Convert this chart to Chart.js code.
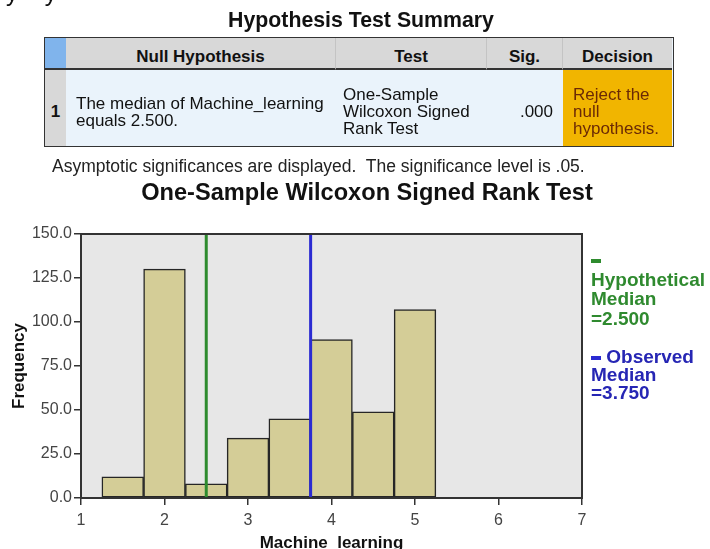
<!DOCTYPE html>
<html>
<head>
<meta charset="utf-8">
<script src="https://cdn.jsdelivr.net/npm/chart.js@4.4.0/dist/chart.umd.min.js"></script>
<style>
  html, body { margin: 0; padding: 0; width: 710px; height: 549px; overflow: hidden; background: #fff; }
  body { position: relative; font-family: "Liberation Sans", Arial, sans-serif; color: #111; }
  .abs { position: absolute; }
  #frag { left: 6px; top: -21px; font-size: 24px; white-space: pre; color: #111; }
  #sumTitle { left: 0; width: 722px; top: 8px; text-align: center; font-size: 21.3px; font-weight: bold; }
  #tbl { left: 44px; top: 37px; width: 630px; height: 110px; border: 1.5px solid #333; box-sizing: border-box; background: #eaf3fb; }
  .hd { position: absolute; top: 0; height: 32px; background: #d8d8d8; border-bottom: 2px solid #333; border-right: 1px solid #c4c4c4;
        font-size: 17px; font-weight: bold; text-align: center; line-height: 38px; box-sizing: border-box; }
  .cell { position: absolute; top: 32px; height: 76px; font-size: 17px; line-height: 17px; box-sizing: border-box;
          display: flex; flex-direction: column; justify-content: center; padding-top: 7px; }
  #note { left: 52px; top: 156px; font-size: 17.5px; white-space: pre; color: #222; }
  #chartTitle { left: 0; width: 734px; top: 179px; text-align: center; font-size: 23.6px; font-weight: bold; }
  #chart { position: absolute; left: 0; top: 0; }
  .leg { position: absolute; left: 591px; font-size: 19px; font-weight: bold; white-space: nowrap; }
  .dash { display: inline-block; width: 10px; height: 4px; vertical-align: middle; }
</style>
</head>
<body>
<canvas id="chart" width="710" height="560"></canvas>

<div class="abs" id="frag">y    y</div>
<div class="abs" id="sumTitle">Hypothesis Test Summary</div>

<div class="abs" id="tbl">
  <div class="hd" style="left:0;width:21px;background:#80b4ec;border-right:none;"></div>
  <div class="hd" style="left:21px;width:270px;">Null Hypothesis</div>
  <div class="hd" style="left:291px;width:151px;">Test</div>
  <div class="hd" style="left:442px;width:76px;">Sig.</div>
  <div class="hd" style="left:518px;width:109px;border-right:none;">Decision</div>

  <div class="cell" style="left:0;width:21px;background:#d8d8d8;font-weight:bold;align-items:center;">1</div>
  <div class="cell" style="left:31px;width:260px;">
    <div>The median of Machine_learning</div><div>equals 2.500.</div>
  </div>
  <div class="cell" style="left:298px;width:144px;">
    <div>One-Sample</div><div>Wilcoxon Signed</div><div>Rank Test</div>
  </div>
  <div class="cell" style="left:442px;width:66px;text-align:right;">.000</div>
  <div class="cell" style="left:518px;width:109px;background:#f1b500;color:#6b2a05;padding-left:10px;">
    <div>Reject the</div><div>null</div><div>hypothesis.</div>
  </div>
</div>

<div class="abs" id="note">Asymptotic significances are displayed.  The significance level is .05.</div>
<div class="abs" id="chartTitle">One-Sample Wilcoxon Signed Rank Test</div>

<div class="leg" id="legHyp" style="top:250px;color:#2f8a2f;line-height:19.5px;"></div>
<div class="leg" id="legObs" style="top:348px;color:#2626b4;line-height:18px;"></div>

<script>
// histogram bins (centres), counts and reference medians
const binCenters = [1.5, 2, 2.5, 3, 3.5, 4, 4.5, 5];
const frequencies = [12, 130, 8, 34, 45, 90, 49, 107];
const yTicks = [0, 25, 50, 75, 100, 125, 150];
const xTicks = [1, 2, 3, 4, 5, 6, 7];
const hypotheticalMedian = 2.5;
const observedMedian = 3.75;

const green = "#2e8b2e";
const blue = "#2b2bd2";

document.getElementById("legHyp").innerHTML =
  '<span class="dash" style="background:' + green + '"></span><br>Hypothetical<br>Median<br>=' + hypotheticalMedian.toFixed(3);
document.getElementById("legObs").innerHTML =
  '<span class="dash" style="background:' + blue + '"></span> Observed<br>Median<br>=' + observedMedian.toFixed(3);

// grey plot area behind the bars, dark frame on top
const plotFrame = {
  id: "plotFrame",
  beforeDatasetsDraw(chart) {
    const a = chart.chartArea, ctx = chart.ctx;
    ctx.save();
    ctx.fillStyle = "#e7e7e7";
    ctx.fillRect(a.left, a.top, a.right - a.left, a.bottom - a.top);
    ctx.restore();
  },
  afterDraw(chart) {
    const a = chart.chartArea, ctx = chart.ctx;
    ctx.save();
    ctx.strokeStyle = "#333";
    ctx.lineWidth = 2;
    ctx.strokeRect(a.left, a.top, a.right - a.left, a.bottom - a.top);
    ctx.restore();
  }
};

const medianLine = (x, color) => ({
  type: "line",
  data: [{ x: x, y: yTicks[0] }, { x: x, y: yTicks[yTicks.length - 1] }],
  borderColor: color,
  borderWidth: 3,
  pointRadius: 0,
  order: 1
});

const data = {
  datasets: [
    medianLine(hypotheticalMedian, green),
    medianLine(observedMedian, blue),
    {
      type: "bar",
      data: binCenters.map((c, i) => ({ x: c, y: frequencies[i] })),
      backgroundColor: "#d4cd97",
      borderColor: "#262626",
      borderWidth: 1.5,
      borderSkipped: false,
      barPercentage: 1,
      categoryPercentage: 1,
      order: 2
    }
  ]
};

const tickFont = { family: "'Liberation Sans', Arial, sans-serif", size: 16 };
const titleFont = { family: "'Liberation Sans', Arial, sans-serif", size: 17, weight: "bold" };

const config = {
  type: "bar",
  data: data,
  options: {
    responsive: false,
    animation: false,
    devicePixelRatio: 1,
    layout: { padding: { top: 234, right: 128, left: 0, bottom: 0 } },
    scales: {
      x: {
        type: "linear",
        offset: false,
        min: xTicks[0],
        max: xTicks[xTicks.length - 1],
        afterBuildTicks: (scale) => { scale.ticks = xTicks.map(v => ({ value: v })); },
        afterFit: (scale) => { scale.height = 62; },
        ticks: { font: tickFont, color: "#444", padding: 6 },
        grid: { offset: false, drawOnChartArea: false, tickLength: 7, color: "#333", lineWidth: 1.5 },
        border: { display: false },
        title: { display: true, text: "Machine_learning", font: titleFont, color: "#111", padding: { bottom: 6, top: 0 } }
      },
      y: {
        min: yTicks[0],
        max: yTicks[yTicks.length - 1],
        afterBuildTicks: (scale) => { scale.ticks = yTicks.map(v => ({ value: v })); },
        afterFit: (scale) => { scale.width = 81; },
        ticks: { font: tickFont, color: "#444", padding: 2, callback: (v) => v.toFixed(1) },
        grid: { drawOnChartArea: false, tickLength: 7, color: "#333", lineWidth: 1.5 },
        border: { display: false },
        title: { display: true, text: "Frequency", font: titleFont, color: "#111", padding: { top: 9, bottom: 0 } }
      }
    },
    plugins: {
      legend: { display: false },
      tooltip: { enabled: false }
    }
  },
  plugins: [plotFrame]
};

new Chart(document.getElementById("chart"), config);
</script>
</body>
</html>
